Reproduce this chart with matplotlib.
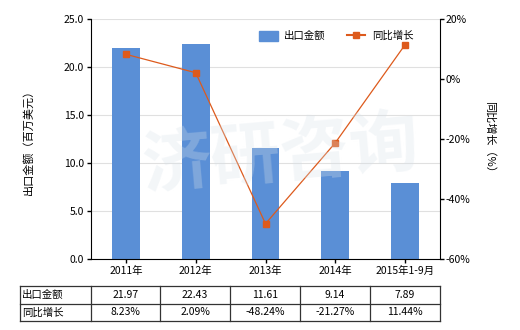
import matplotlib
matplotlib.use("Agg")
import matplotlib.pyplot as plt
from matplotlib.lines import Line2D
from matplotlib.patches import Patch

plt.rcParams['font.family'] = ['Noto Sans CJK SC', 'DejaVu Sans']

categories = ['2011年', '2012年', '2013年', '2014年', '2015年1-9月']
export_values = [21.97, 22.43, 11.61, 9.14, 7.89]
growth = [8.23, 2.09, -48.24, -21.27, 11.44]
export_labels = ['21.97', '22.43', '11.61', '9.14', '7.89']
growth_labels = ['8.23%', '2.09%', '-48.24%', '-21.27%', '11.44%']
left_ticks = [0, 5, 10, 15, 20, 25]
right_ticks = [-60, -40, -20, 0, 20]

W, H = 520, 330
fig = plt.figure(figsize=(W/100, H/100), dpi=100)
x0, x1, y0, y1 = 91, 440, 19, 259
ax = fig.add_axes([x0/W, 1 - y1/H, (x1-x0)/W, (y1-y0)/H])

bar_color = '#5A8FD6'
line_color = '#DD5A1C'
xs = list(range(len(categories)))
ax.bar(xs, export_values, width=0.4, color=bar_color, zorder=2)
ax.set_xlim(-0.5, len(categories) - 0.5)
ax.set_ylim(0, 25)
ax.set_yticks(left_ticks)
ax.set_yticklabels([f'{v:.1f}' for v in left_ticks], fontsize=7.5)
ax.set_xticks(xs)
ax.set_xticklabels(categories, fontsize=7.5)
ax.grid(axis='y', color='#E0E0E0', linewidth=0.8, zorder=0)
ax.set_axisbelow(True)
for s in ['top', 'right']:
    ax.spines[s].set_visible(False)
ax.tick_params(axis='both', length=3, width=1, pad=2)
ax.set_ylabel('出口金额（百万美元）', fontsize=8, labelpad=22)

ax2 = ax.twinx()
ax2.plot(xs, growth, color=line_color, linewidth=0.9, marker='s', markersize=4.5, zorder=3)
ax2.set_ylim(-60, 20)
ax2.set_yticks(right_ticks)
ax2.set_yticklabels([f'{v}%' for v in right_ticks], fontsize=7.5)
for s in ['top', 'left', 'bottom']:
    ax2.spines[s].set_visible(False)
ax2.tick_params(axis='y', length=3, width=1, pad=1)
ax2.set_ylabel('同比增长（%）', fontsize=8, rotation=270, labelpad=18)

# watermark
fig.text(0.54, 0.53, '济研咨询', fontsize=50, color='#D8E2EA', alpha=0.3,
         ha='center', va='center', rotation=5, fontweight='bold', zorder=10)

handles = [Patch(color=bar_color, label='出口金额'),
           Line2D([0], [0], color=line_color, marker='s', markersize=4, linewidth=1.5, label='同比增长')]
ax.legend(handles=handles, loc='upper right', bbox_to_anchor=(0.95, 0.99), ncol=2, frameon=False,
          fontsize=7.5, handlelength=1.8, handleheight=1.1, columnspacing=2.0, handletextpad=0.6)

# table
cols = [20, 91, 160, 230, 300, 370, 440]
rows = [286, 303.5, 321]
def fx(px): return px / W
def fy(py): return 1 - py / H
for r in rows:
    fig.add_artist(Line2D([fx(cols[0]), fx(cols[-1])], [fy(r), fy(r)], color='#333333', linewidth=0.9))
for c in cols:
    fig.add_artist(Line2D([fx(c), fx(c)], [fy(rows[0]), fy(rows[-1])], color='#333333', linewidth=0.9))
row_names = ['出口金额', '同比增长']
row_data = [export_labels, growth_labels]
for i in range(2):
    yc = (rows[i] + rows[i+1]) / 2
    fig.text(fx(cols[0] + 2), fy(yc), row_names[i], fontsize=7.5, ha='left', va='center')
    for j, t in enumerate(row_data[i]):
        xc = (cols[j+1] + cols[j+2]) / 2
        fig.text(fx(xc), fy(yc), t, fontsize=7.5, ha='center', va='center')

fig.savefig('out.png', dpi=100)
